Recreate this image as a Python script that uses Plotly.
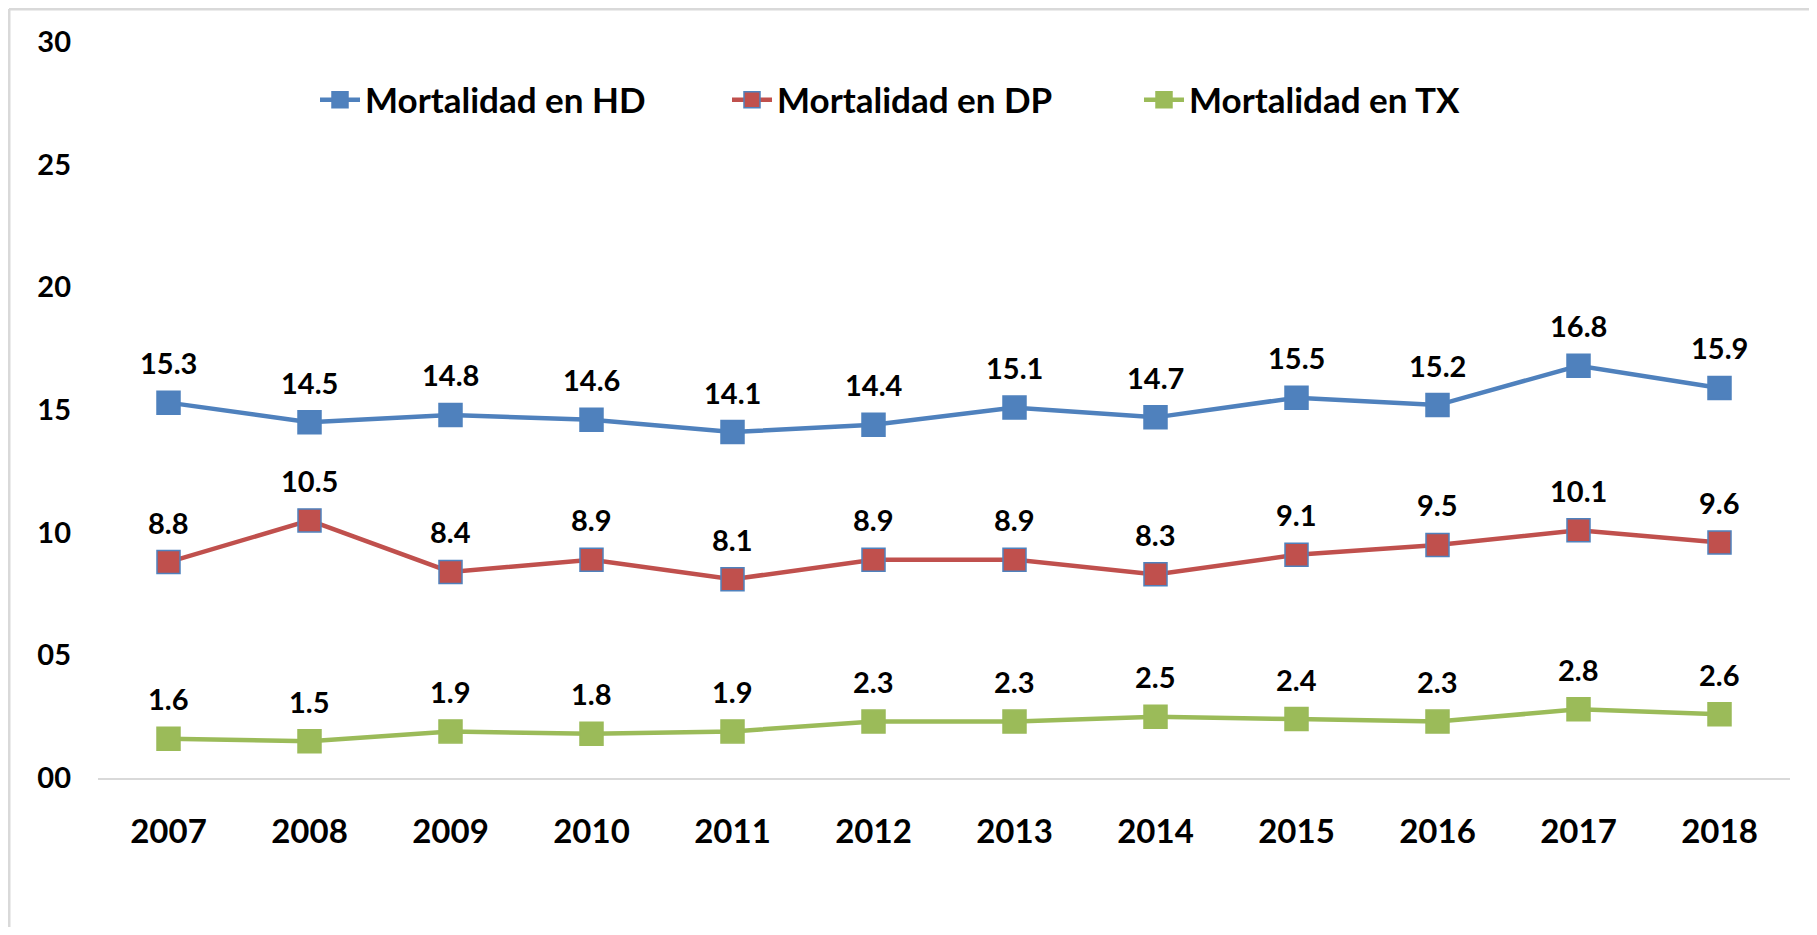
import plotly.graph_objects as go

years = ["2007", "2008", "2009", "2010", "2011", "2012", "2013", "2014", "2015", "2016", "2017", "2018"]
hd = [15.3, 14.5, 14.8, 14.6, 14.1, 14.4, 15.1, 14.7, 15.5, 15.2, 16.8, 15.9]
dp = [8.8, 10.5, 8.4, 8.9, 8.1, 8.9, 8.9, 8.3, 9.1, 9.5, 10.1, 9.6]
tx = [1.6, 1.5, 1.9, 1.8, 1.9, 2.3, 2.3, 2.5, 2.4, 2.3, 2.8, 2.6]
names = ["Mortalidad en HD", "Mortalidad en DP", "Mortalidad en TX"]
ytick_vals = [0, 5, 10, 15, 20, 25, 30]
ytick_text = ["00", "05", "10", "15", "20", "25", "30"]

BLUE = "#4F81BD"
RED = "#C0504D"
GREEN = "#9BBB59"


def font(size):
    return dict(family="Lato", size=size, color="black", weight="bold")


fig = go.Figure()
annotations = []
for vals, name, col, outline in [(hd, names[0], BLUE, BLUE), (dp, names[1], RED, BLUE), (tx, names[2], GREEN, GREEN)]:
    fig.add_trace(go.Scatter(
        x=years, y=vals, name=name, mode="lines+markers",
        line=dict(color=col, width=4.5),
        marker=dict(symbol="square", size=23, color=col, line=dict(color=outline, width=1.5)),
        cliponaxis=False,
    ))
    for i, v in enumerate(vals):
        annotations.append(dict(x=i, y=v, xref="x", yref="y", text=f"{v:.1f}",
                                showarrow=False, yanchor="middle", yshift=40,
                                font=font(29)))

# page has an 8px body margin; figure is sized/positioned to compensate
W, H = 1801, 919
L, T = 90, 34
R = W - 1782
B = H - 770
pw, ph = W - L - R, H - T - B

fig.update_layout(
    width=W, height=H,
    margin=dict(l=L, r=R, t=T, b=B),
    paper_bgcolor="white", plot_bgcolor="white",
    font=font(30),
    showlegend=True,
    legend=dict(orientation="h", x=(307 - L) / pw, xanchor="left",
                y=(770 - 92) / ph, yanchor="middle",
                font=font(35),
                bgcolor="rgba(0,0,0,0)", entrywidth=357, itemwidth=40),
    xaxis=dict(type="category", range=[-0.5, 11.5], showgrid=False, zeroline=False,
               showline=True, linecolor="#d9d9d9", linewidth=2, ticks="",
               tickfont=font(33), ticklabelstandoff=23, automargin=False),
    yaxis=dict(range=[0, 30], showgrid=False, zeroline=False, showline=False,
               tickvals=ytick_vals, ticktext=ytick_text, ticks="",
               tickfont=font(29), ticklabelstandoff=26, automargin=False),
    annotations=annotations,
    shapes=[
        dict(type="line", xref="paper", yref="paper",
             x0=(1 - L) / pw, x1=(1 - L) / pw, y0=(770 - 1) / ph, y1=(770 - H) / ph,
             line=dict(color="#d9d9d9", width=3)),
        dict(type="line", xref="paper", yref="paper",
             x0=(1 - L) / pw, x1=(W - L) / pw, y0=(770 - 1) / ph, y1=(770 - 1) / ph,
             line=dict(color="#d9d9d9", width=3)),
    ],
)

fig.write_html("out.html")
